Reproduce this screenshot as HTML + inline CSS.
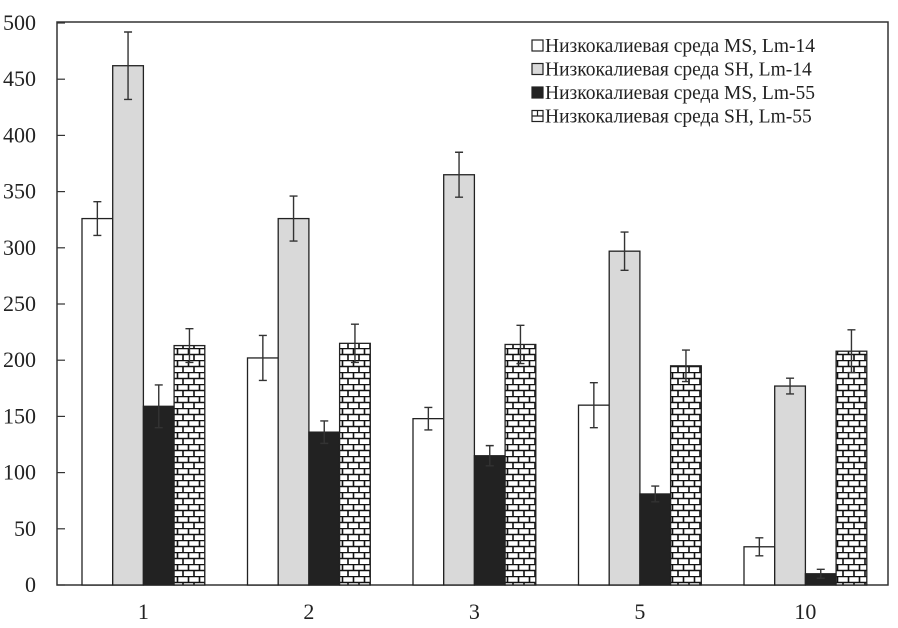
<!DOCTYPE html>
<html><head><meta charset="utf-8"><style>
body{margin:0;background:#fff}
svg text{font-family:"Liberation Serif",serif;fill:#222}
</style></head><body>
<svg width="898" height="623">
<defs>
<pattern id="brick" patternUnits="userSpaceOnUse" width="11" height="12" x="0" y="0">
<rect width="11" height="12" fill="#fff"/>
<path d="M0 0.5H11M0 6.5H11M1.5 0V6M7 6V12" stroke="#111" stroke-width="1.6" fill="none"/>
</pattern>
</defs>
<g id="chart"></g>
</svg>
<script>
const categories=["1","2","3","5","10"];
const msLm14=[326,202,148,160,34];
const msLm14Err=[15,20,10,20,8];
const shLm14=[462,326,365,297,177];
const shLm14Err=[30,20,20,17,7];
const msLm55=[159,136,115,81,10];
const msLm55Err=[19,10,9,7,4];
const shLm55=[213,215,214,195,208];
const shLm55Err=[15,17,17,14,19];
const yTicks=[0,50,100,150,200,250,300,350,400,450,500];
const legendLabels=["Низкокалиевая среда MS, Lm-14","Низкокалиевая среда SH, Lm-14","Низкокалиевая среда MS, Lm-55","Низкокалиевая среда SH, Lm-55"];

const NS="http://www.w3.org/2000/svg";
const g=document.getElementById('chart');
const X0=57,X1=888,Y0=585,Y500=23;
const y=v=>Y0-(v/500)*(Y0-Y500);
const groupStart=i=>82+i*165.5;
const BW=30.7;
function el(t,a){const e=document.createElementNS(NS,t);for(const k in a)e.setAttribute(k,a[k]);g.appendChild(e);return e;}
const series=[[msLm14,msLm14Err,'#fff'],[shLm14,shLm14Err,'#d9d9d9'],[msLm55,msLm55Err,'#222'],[shLm55,shLm55Err,'url(#brick)']];
const names=['bar-ms-lm14','bar-sh-lm14','bar-ms-lm55','bar-sh-lm55'];
const fr=el('rect',{x:X0,y:Y500-1,width:X1-X0,height:Y0-Y500+1,fill:'none',stroke:'#333','stroke-width':1.5});


yTicks.forEach(t=>{
 const l=el('line',{x1:X0,x2:X0+8,y1:y(t),y2:y(t),stroke:'#333','stroke-width':1.2});
 
 
 const tx=el('text',{x:X0-21,y:y(t)+7,'text-anchor':'end','font-size':22});
 tx.textContent=t;
 
 
});
categories.forEach((c,i)=>{
 const s=groupStart(i);
 series.forEach((sr,j)=>{
  const v=sr[0][i],e=sr[1][i],x=s+j*BW;
  const r=el('rect',{x:x,y:y(v),width:BW,height:Y0-y(v),fill:sr[2],stroke:'#222','stroke-width':1.3});
  
  
  const cx=x+BW/2;
  const eb=el('path',{d:`M${cx} ${y(v+e)}V${y(v-e)}M${cx-4} ${y(v+e)}H${cx+4}M${cx-4} ${y(v-e)}H${cx+4}`,stroke:'#333','stroke-width':1.4,fill:'none'});
  
  
 });
 const tx=el('text',{x:s+2*BW,y:619,'text-anchor':'middle','font-size':22});
 tx.textContent=c;
 
 
});
legendLabels.forEach((lab,j)=>{
 const ly=52+j*23.5;
 const r=el('rect',{x:532,y:ly-12,width:11,height:11,fill:j==3?'#fff':series[j][2],stroke:'#222','stroke-width':1.2});
 
 
 if(j==3){el('path',{d:`M532 ${ly-6.5}H543M537.5 ${ly-12}V${ly-6.5}`,stroke:'#222','stroke-width':1.2});}
 const t=el('text',{x:545,y:ly,'font-size':19.5});
 t.textContent=lab;
 
 
});
</script>
</body></html>
